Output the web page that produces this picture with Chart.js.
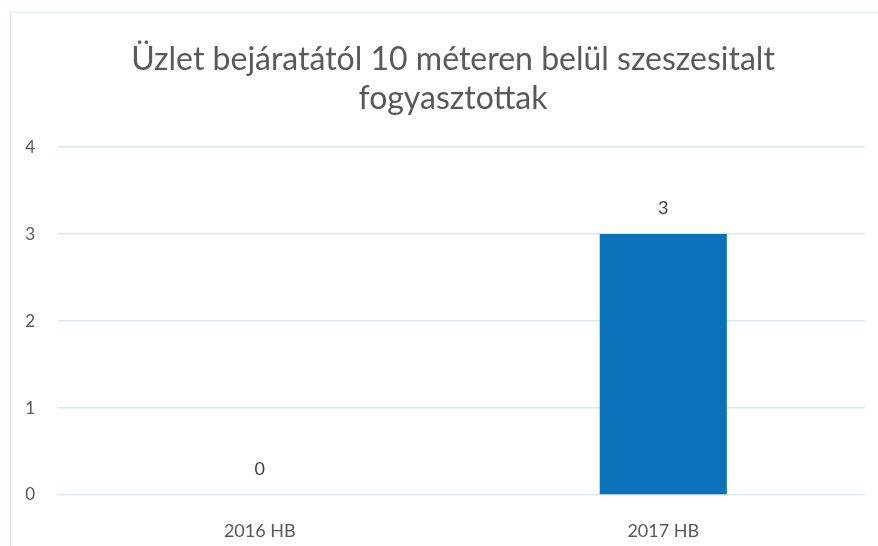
<!DOCTYPE html>
<html>
<head>
<meta charset="utf-8">
<script src="https://cdn.jsdelivr.net/npm/chart.js@4/dist/chart.umd.min.js"></script>
<style>
    html, body { margin: 0; padding: 0; background: #fff; }
    #wrap { position: relative; width: 878px; height: 546px; }
    #frame { position: absolute; left: 10px; top: 12px; right: 0; bottom: 0; border-left: 1px solid #dce8ef; border-top: 1px solid #e6eff4; }
    canvas { position: absolute; left: 0; top: 0; }
</style>
</head>
<body>
<div id="wrap">
    <div id="frame"></div>
    <canvas id="chart" width="878" height="546"></canvas>
</div>
<script>
// Chart data
const categories = ['2016 HB', '2017 HB'];
const values = [0, 3];
const yTicks = [0, 1, 2, 3, 4];
const titleLines = ['Üzlet bejáratától 10 méteren belül szeszesitalt', 'fogyasztottak'];

const fontFamily = 'Lato, "Open Sans", sans-serif';

// Simple value labels above each bar
const valueLabels = {
    id: 'valueLabels',
    afterDatasetsDraw(chart) {
        const ctx = chart.ctx;
        const meta = chart.getDatasetMeta(0);
        ctx.save();
        ctx.font = '18px ' + fontFamily;
        ctx.fillStyle = '#404040';
        ctx.textAlign = 'center';
        ctx.textBaseline = 'middle';
        meta.data.forEach((bar, i) => {
            ctx.fillText(String(values[i]), bar.x, bar.y - 26);
        });
        ctx.restore();
    }
};

// the original title sits a bit right of the canvas centre
const shiftTitle = {
    id: 'shiftTitle',
    afterLayout(chart) {
        if (chart.titleBlock) chart.titleBlock.left += 41;
    }
};

const ctx = document.getElementById('chart').getContext('2d');
const chart = new Chart(ctx, {
    type: 'bar',
    data: {
        labels: categories,
        datasets: [{
            data: values,
            backgroundColor: '#0b72b9',
            barPercentage: 0.315,
            categoryPercentage: 1
        }]
    },
    options: {
        responsive: false,
        animation: false,
        layout: { padding: { left: 0, right: 13, top: 0, bottom: 0 } },
        scales: {
            x: {
                afterFit: axis => { axis.height = 51; },
                grid: { display: false },
                border: { display: false },
                ticks: {
                    color: '#595959',
                    font: { family: fontFamily, size: 18 },
                    padding: 17
                }
            },
            y: {
                min: 0,
                max: 4,
                afterBuildTicks: axis => { axis.ticks = yTicks.map(v => ({ value: v })); },
                afterFit: axis => { axis.width = 58; },
                grid: { color: '#d9e7f0', lineWidth: 1.5, drawTicks: false },
                border: { display: false },
                ticks: {
                    color: '#595959',
                    font: { family: fontFamily, size: 17 },
                    padding: 23
                }
            }
        },
        plugins: {
            legend: { display: false },
            tooltip: { enabled: false },
            title: {
                display: true,
                text: titleLines,
                color: '#595959',
                font: { family: fontFamily, size: 32, weight: 'normal', lineHeight: 1.22 },
                padding: { top: 40, bottom: 29 }
            }
        }
    },
    plugins: [valueLabels, shiftTitle]
});
</script>
</body>
</html>
